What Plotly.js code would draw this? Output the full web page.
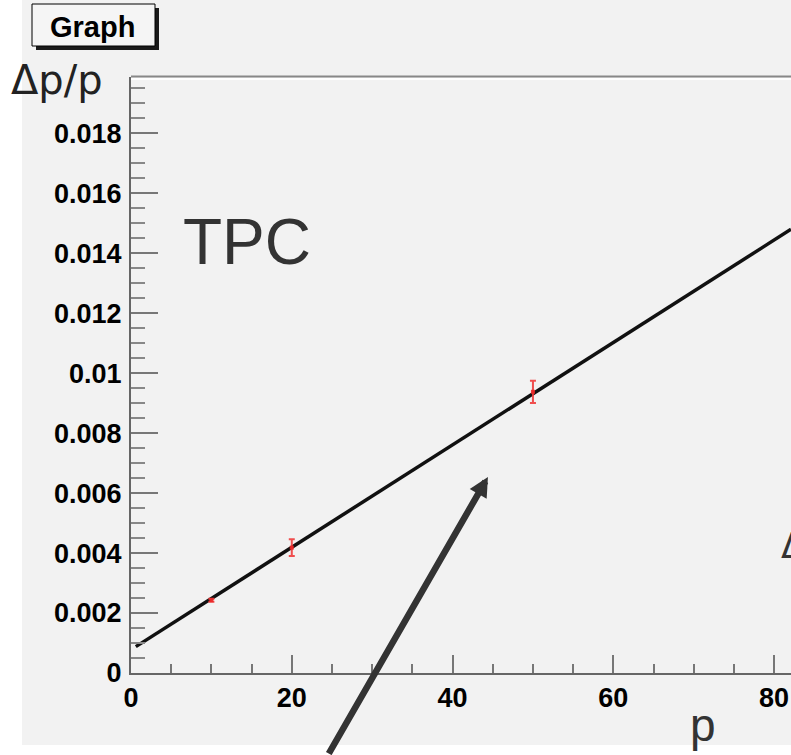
<!DOCTYPE html>
<html>
<head>
<meta charset="utf-8">
<script src="https://cdn.plot.ly/plotly-3.0.1.min.js"></script>
<style>
  html, body { margin: 0; padding: 0; background: #ffffff; width: 791px; height: 755px; overflow: hidden; }
  #bg { position: absolute; left: 22px; top: 0px; width: 769px; height: 745px; background: #f2f2f2; }
  #chart { position: absolute; left: 0px; top: 0px; width: 791px; height: 755px; }
</style>
</head>
<body>
<div id="bg"></div>
<div id="chart"></div>
<script>
// ---- data ----
const pointP = [10, 20, 50];
const pointRes = [0.00243, 0.00418, 0.00938];
const pointErr = [0.00005, 0.00028, 0.00037];

const lineP = [0.6, 82.1];
const lineRes = [0.00088, 0.01480];

const xTickVals = [0, 20, 40, 60, 80];
const xTickText = ['0', '20', '40', '60', '80'];
const yTickVals = [0, 0.002, 0.004, 0.006, 0.008, 0.01, 0.012, 0.014, 0.016, 0.018];
const yTickText = ['0', '0.002', '0.004', '0.006', '0.008', '0.01', '0.012', '0.014', '0.016', '0.018'];

const xRange = [0, 82.1];
const yRange = [0, 0.01988];

// ---- traces ----
const fitLine = {
  x: lineP, y: lineRes, type: 'scatter', mode: 'lines',
  line: { color: '#111111', width: 3.5 },
  hoverinfo: 'skip', showlegend: false
};
const points = {
  x: pointP, y: pointRes, type: 'scatter', mode: 'markers',
  marker: { color: 'rgba(235,40,40,0.9)', size: 4, symbol: 'square' },
  error_y: { type: 'data', array: pointErr, visible: true, color: 'rgba(240,60,60,0.9)', thickness: 2, width: 3 },
  showlegend: false
};

const tickFont = { family: 'Liberation Sans, Arial, sans-serif', size: 27, color: '#000000', weight: 'bold' };

const layout = {
  width: 791, height: 755,
  margin: { l: 131, r: 0, t: 77, b: 82, pad: 0 },
  paper_bgcolor: 'rgba(0,0,0,0)',
  plot_bgcolor: '#f2f2f2',
  showlegend: false,
  xaxis: {
    range: xRange, showgrid: false, zeroline: false,
    showline: true, linecolor: '#666666', linewidth: 2,
    ticks: 'inside', ticklen: 18, tickwidth: 2, tickcolor: '#777777',
    tickvals: xTickVals, ticktext: xTickText,
    minor: { dtick: 5, tick0: 0, ticks: 'inside', ticklen: 9, tickwidth: 2, tickcolor: '#777777', showgrid: false },
    tickfont: tickFont, ticklabelstandoff: 0
  },
  yaxis: {
    range: yRange, showgrid: false, zeroline: false,
    showline: true, linecolor: '#666666', linewidth: 2,
    ticks: 'inside', ticklen: 27, tickwidth: 2, tickcolor: '#777777',
    tickvals: yTickVals, ticktext: yTickText,
    minor: { dtick: 0.0005, tick0: 0, ticks: 'inside', ticklen: 14, tickwidth: 2, tickcolor: '#888888', showgrid: false },
    tickfont: tickFont, ticklabelstandoff: 2
  },
  shapes: [
    // top frame
    { type: 'line', xref: 'paper', yref: 'paper', ysizemode: 'pixel', yanchor: 1,
      x0: 0, x1: 1, y0: 0.5, y1: 0.5, line: { color: '#888888', width: 2 } },
    { type: 'line', xref: 'paper', yref: 'paper', ysizemode: 'pixel', yanchor: 1,
      x0: 0, x1: 1, y0: -2, y1: -2, line: { color: '#ffffff', width: 2 } },
    // Graph box shadow
    { type: 'rect', xref: 'paper', yref: 'paper', xsizemode: 'pixel', ysizemode: 'pixel', xanchor: 0, yanchor: 1,
      x0: -95, x1: 28, y0: 27, y1: 69, fillcolor: '#1a1a1a', line: { width: 0 } },
    // Graph box
    { type: 'rect', xref: 'paper', yref: 'paper', xsizemode: 'pixel', ysizemode: 'pixel', xanchor: 0, yanchor: 1,
      x0: -99, x1: 24, y0: 31, y1: 73, fillcolor: '#f5f5f5', line: { color: '#000000', width: 1 } }
  ],
  annotations: [
    { text: 'Graph', xref: 'paper', yref: 'paper', x: 0, y: 1, xanchor: 'center', yanchor: 'middle',
      xshift: -39, yshift: 50, showarrow: false,
      font: { family: 'Liberation Sans, Arial, sans-serif', size: 29, color: '#000000', weight: 'bold' } },
    { text: 'Δp/p', xref: 'paper', yref: 'paper', x: 0, y: 1, xanchor: 'left', yanchor: 'middle',
      xshift: -122, yshift: -3, showarrow: false,
      font: { family: 'DejaVu Sans, Arial, sans-serif', size: 40, color: '#222222' } },
    { text: 'TPC', xref: 'paper', yref: 'paper', x: 0, y: 1, xanchor: 'left', yanchor: 'middle',
      xshift: 50, yshift: -165, showarrow: false,
      font: { family: 'Liberation Sans, Arial, sans-serif', size: 64, color: '#333333' } },
    { text: 'p', xref: 'paper', yref: 'paper', x: 0, y: 0, xanchor: 'center', yanchor: 'middle',
      xshift: 571.5, yshift: -52, showarrow: false,
      font: { family: 'Liberation Sans, Arial, sans-serif', size: 46, color: '#333333' } },
    { text: 'Δ', xref: 'paper', yref: 'paper', x: 0, y: 0, xanchor: 'left', yanchor: 'middle',
      xshift: 648, yshift: 127, showarrow: false,
      font: { family: 'DejaVu Sans, Arial, sans-serif', size: 35, color: '#333333' } },
    // arrow
    { text: '', xref: 'x', yref: 'y', x: 44.4, y: 0.00654, showarrow: true,
      ax: -160, ay: 282, axref: 'pixel', ayref: 'pixel',
      arrowhead: 2, arrowsize: 0.6, arrowwidth: 6.5, arrowcolor: '#333333', standoff: 0 }
  ]
};

Plotly.newPlot('chart', [fitLine, points], layout, { staticPlot: true, displayModeBar: false });
</script>
</body>
</html>
